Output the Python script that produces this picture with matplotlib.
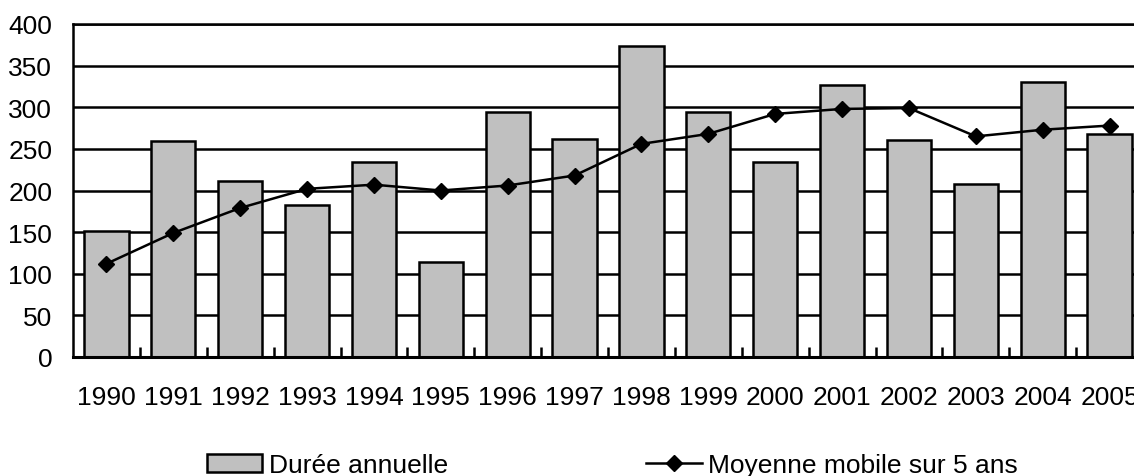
import matplotlib
matplotlib.use("Agg")
import matplotlib.pyplot as plt
import numpy as np

years = ["1990", "1991", "1992", "1993", "1994", "1995", "1996", "1997",
         "1998", "1999", "2000", "2001", "2002", "2003", "2004", "2005"]
duree_annuelle = [151, 259, 211, 182, 234, 114, 294, 262,
                  374, 294, 234, 327, 261, 208, 330, 268]
moyenne_mobile = [112, 149, 179, 202, 207, 200, 206, 218,
                  256, 268, 292, 298, 299, 265, 273, 278]
yticks = [0, 50, 100, 150, 200, 250, 300, 350, 400]

plt.rcParams['font.family'] = ['Liberation Sans', 'DejaVu Sans']
FS = 19
LW = 1.8

fig = plt.figure(figsize=(11.34, 4.77), dpi=100)
ax = fig.add_axes([73 / 1134, (477 - 358) / 477, 1070 / 1134, 333 / 477])

x = np.arange(len(years))
bars = ax.bar(x, duree_annuelle, width=0.66, color='#c0c0c0',
              edgecolor='black', linewidth=LW, zorder=2,
              label='Durée annuelle')
line, = ax.plot(x, moyenne_mobile, color='black', linewidth=LW,
                marker='D', markersize=8.5, markerfacecolor='black',
                markeredgecolor='black', zorder=3,
                label='Moyenne mobile sur 5 ans')

ax.set_xlim(-0.5, len(years) - 0.5)
ax.set_ylim(0, 400)
ax.set_yticks(yticks)
ax.set_yticklabels([str(v) for v in yticks], fontsize=FS)
ax.set_xticks(x)
ax.set_xticklabels(years, fontsize=FS)
ax.set_xticks(x[:-1] + 0.5, minor=True)
ax.tick_params(axis='x', which='major', length=0, pad=20)
ax.tick_params(axis='x', which='minor', direction='in', length=7,
               width=LW, color='black')
ax.tick_params(axis='y', which='major', length=0, pad=15)

ax.yaxis.grid(True, color='black', linewidth=LW, zorder=1)
ax.set_axisbelow(True)

for s in ['left', 'top']:
    ax.spines[s].set_linewidth(LW)
    ax.spines[s].set_color('black')
ax.spines['bottom'].set_linewidth(2.2)
ax.spines['right'].set_visible(False)

fig.legend(handles=[bars, line], loc='center left',
           bbox_to_anchor=(207 / 1134, (477 - 466) / 477),
           ncol=2, frameon=False, fontsize=FS, borderpad=0,
           borderaxespad=0, handlelength=2.1, handleheight=0.65,
           handletextpad=0.24, columnspacing=7.52, numpoints=1)

fig.savefig("out.png", dpi=100)
